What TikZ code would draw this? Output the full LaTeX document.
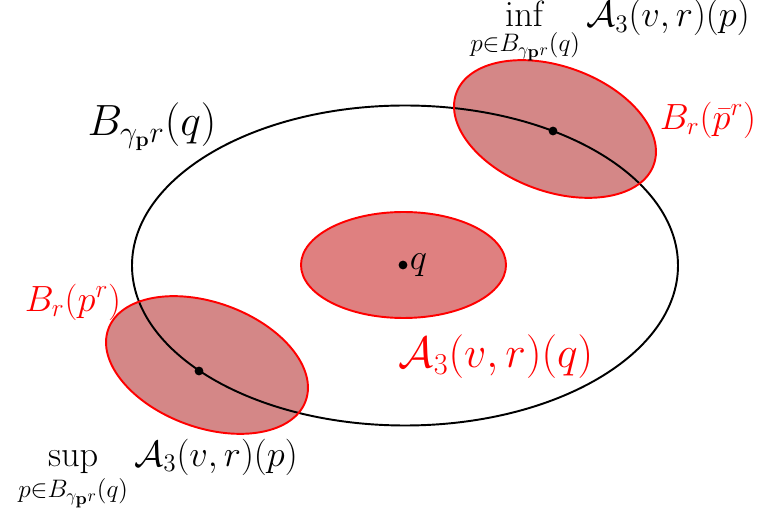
\documentclass[tikz,border=0pt]{standalone}
\usepackage{amsmath,amssymb}
\usepackage{tikz}
\usetikzlibrary{positioning}
\definecolor{BallFill}{HTML}{DF8080}
\definecolor{BallFillDark}{HTML}{D48787}
\tikzset{
  bigball/.style={draw=black,line width=1.1pt},
  redball/.style={draw=red,line width=1.1pt},
  ptdot/.style={circle,fill=black,inner sep=0pt,minimum size=5pt},
  redlabel/.style={text=red,font=\fontsize{22}{26}\selectfont},
  biglabel/.style={font=\fontsize{24.5}{29}\selectfont},
  extlabel/.style={font=\fontsize{20}{24}\selectfont},
}

\begin{document}
\begin{tikzpicture}
  \useasboundingbox (0,0) rectangle (15.2,10.3);

  % -- fills of the small balls --
  \fill[BallFillDark] (11.10,7.72) ellipse [x radius=2.10cm, y radius=1.25cm, rotate=-20];
  \fill[BallFillDark] (4.14,3.00) ellipse [x radius=2.10cm, y radius=1.25cm, rotate=-20];
  \fill[BallFill] (8.07,5.00) ellipse [x radius=2.05cm, y radius=1.06cm];

  % -- big ball --
  \draw[bigball] (8.10,4.99) ellipse [x radius=5.46cm, y radius=3.20cm];

  % -- outlines --
  \draw[redball] (11.10,7.72) ellipse [x radius=2.10cm, y radius=1.25cm, rotate=-20];
  \draw[redball] (4.14,3.00) ellipse [x radius=2.10cm, y radius=1.25cm, rotate=-20];
  \draw[redball] (8.07,5.00) ellipse [x radius=2.05cm, y radius=1.06cm];

  % -- points --
  \node[ptdot] (q) at (8.06,5.00) {};
  \node[ptdot] (pbar) at (11.06,7.68) {};
  \node[ptdot] (p) at (3.98,2.88) {};

  % -- labels --
  \node[right=1pt of q, inner sep=0pt, font=\huge] (qlab) {$q$};
  \node[biglabel] (bigname) at (3.04,7.76) {$B_{\gamma_{\mathbf{p}} r}(q)$};
  \node[redlabel] (pbarname) at (14.16,7.90) {$B_r(\bar{p}^r)$};
  \node[redlabel] (pname) at (1.46,4.26) {$B_r(p^r)$};
  \node[redlabel, font=\fontsize{23.5}{28}\selectfont] (aq) at (9.92,3.16) {$\mathcal{A}_3(v,r)(q)$};
  \node[extlabel, inner sep=1pt] (inflab) at (12.20,9.66)
    {$\displaystyle\inf_{p\in B_{\gamma_{\mathbf{p}} r}(q)} \mathcal{A}_3(v,r)(p)$};
  \node[extlabel, inner sep=1pt] (suplab) at (3.16,0.80)
    {$\displaystyle\sup_{p\in B_{\gamma_{\mathbf{p}} r}(q)} \mathcal{A}_3(v,r)(p)$};
\end{tikzpicture}
\end{document}
